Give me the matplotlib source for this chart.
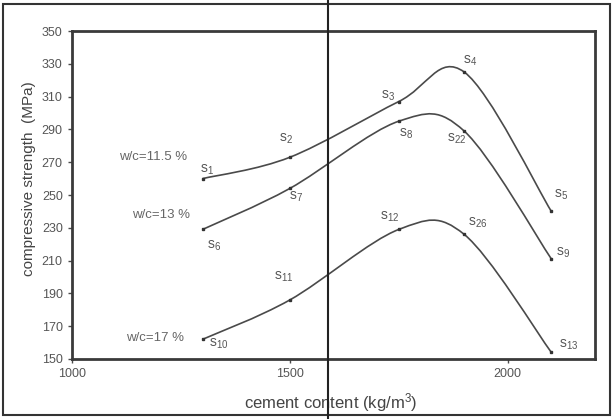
import numpy as np
import matplotlib.pyplot as plt
from matplotlib.path import Path
from matplotlib.patches import PathPatch, Rectangle
from matplotlib.lines import Line2D

plt.rcParams['font.family'] = ['Liberation Sans', 'DejaVu Sans']
plt.rcParams['mathtext.fontset'] = 'custom'
plt.rcParams['mathtext.rm'] = 'Liberation Sans'
plt.rcParams['mathtext.it'] = 'Liberation Sans'

# cement content (kg/m3)
cement = [1300, 1500, 1750, 1900, 2100]

# compressive strength (MPa) per w/c ratio
wc115 = [260, 273, 307, 325, 240]
wc13 = [229, 254, 295, 289, 211]
wc17 = [162, 186, 229, 226, 154]

series_names = ['w/c=11.5 %', 'w/c=13 %', 'w/c=17 %']
sample_ids = [['1', '2', '3', '4', '5'],
              ['6', '7', '8', '22', '9'],
              ['10', '11', '12', '26', '13']]

# label offsets in pixels (x, y up) for each sample label
label_offsets = [[(4, 9), (-4, 18), (-11, 6), (6, 11), (10, 17)],
                 [(11, -16), (6, -8), (7, -13), (-8, -8), (12, 6)],
                 [(16, -4), (-6, 23), (-9, 13), (14, 12), (17, 8)]]
name_pos = [(1186, 273), (1204, 238), (1190, 163)]


def smooth_path(x, y):
    '''
    Bezier path through the points, Excel-like smoothing
    '''
    pts = np.column_stack([x, y]).astype(float)
    n = len(pts)
    verts = [pts[0]]
    codes = [Path.MOVETO]
    for i in range(n - 1):
        p_prev = pts[i - 1] if i > 0 else pts[i]
        p_next2 = pts[i + 2] if i + 2 < n else pts[i + 1]
        c1 = pts[i] + (pts[i + 1] - p_prev) / 6.0
        c2 = pts[i + 1] - (p_next2 - pts[i]) / 6.0
        verts += [c1, c2, pts[i + 1]]
        codes += [Path.CURVE4] * 3
    return Path(verts, codes)


fig = plt.figure(figsize=(6.14, 4.19), dpi=100)
ax = fig.add_axes([0.117, 0.1432, 0.852, 0.7828])

line_col = '#4a4a4a'
text_col = '#555555'

for k, ys in enumerate([wc115, wc13, wc17]):
    ax.add_patch(PathPatch(smooth_path(cement, ys), facecolor='none',
                           edgecolor=line_col, lw=1.2))
    ax.plot(cement, ys, ls='none', marker='s', ms=2, color='#333333')
    for j in range(len(cement)):
        ax.annotate('s$_{%s}$' % sample_ids[k][j], (cement[j], ys[j]),
                    xytext=label_offsets[k][j], textcoords='offset pixels',
                    ha='center', va='center', fontsize=10, color=text_col)
    ax.text(name_pos[k][0], name_pos[k][1], series_names[k], ha='center',
            va='center', fontsize=9.5, color='#666666')

ax.set_xlim(1000, 2200)
ax.set_ylim(150, 350)
ax.set_xticks([1000, 1500, 2000])
ax.set_yticks(np.arange(150, 351, 20))
ax.tick_params(labelsize=9, labelcolor=text_col, color=line_col,
               length=3, width=1)
for s in ax.spines.values():
    s.set_linewidth(2)
    s.set_color('#3a3a3a')
ax.set_xlabel('cement content (kg/m$^3$)', fontsize=12, color='#444444')
ax.set_ylabel('compressive strength  (MPa)', fontsize=11, color='#444444')
ax.xaxis.set_label_coords(0.495, -0.098)
ax.yaxis.set_label_coords(-0.069, 0.55)

# outer frame and the vertical line of the scan
fig.patches.append(Rectangle((3 / 614, 4 / 419), 607 / 614, 411 / 419,
                             transform=fig.transFigure, fill=False,
                             edgecolor='#333333', lw=1.5))
fig.lines.append(Line2D([328 / 614, 328 / 614], [0, 1],
                        transform=fig.transFigure, color='#222222', lw=1.5))

fig.savefig('out.png', dpi=100)
